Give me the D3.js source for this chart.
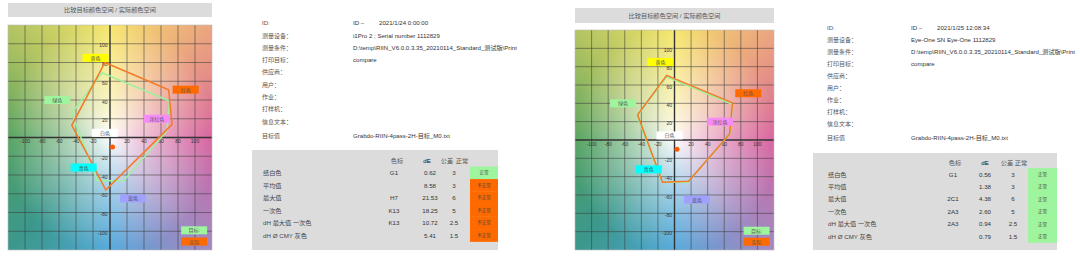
<!DOCTYPE html>
<html><head><meta charset="utf-8">
<script src="https://cdn.jsdelivr.net/npm/d3@7"></script>
<style>
body{margin:0;background:#fff;}
svg{display:block;font-family:"Liberation Sans",Arial,"Noto Sans CJK SC",sans-serif;}
</style>
</head><body>
<svg id="c" width="1080" height="256"></svg>
<script>
// ---------- data ----------
const chartTitle = "比较目标颜色空间 / 实际颜色空间";
const tickValues = [-100, -80, -60, -40, -20, 20, 40, 60, 80, 100];
const gridValues = [-100, -80, -60, -40, -20, 0, 20, 40, 60, 80, 100];

const colorNames = ["黄色", "红色", "洋红色", "蓝色", "青色", "绿色", "白色"];
const colorNameA = [-17, 89, 55, 27, -31, -62, -6];
const colorNameB = [85, 51, 20, -65, -32, 40, 5];
const colorNameFill = ["#ffff00", "#ff6a00", "#f58cf5", "#a0a0ff", "#00ffff", "#9ef59e", "#ffffff"];

const legendNames = ["目标:", "实际"];
const legendFill = ["#9ef59e", "#ff6a00"];
const legendA = [99, 99];
const legendB = [-99, -111];

// target gamut (Y, R, M, B, C, G) in a*, b*
const targetA = [-9.5, 70, 67, 16, -15, -45];
const targetB = [69, 39, 7, -46, -46, 26];
// actual gamut, chart 1
const actual1A = [-6, 69, 73, -5, -25, -45];
const actual1B = [80, 51, 14, -56, -21, 13];
// actual gamut, chart 2
const actual2A = [-9.5, 70, 66.5, 17, -14.5, -44.5];
const actual2B = [70.5, 40.5, 6.5, -45, -46, 27.5];
// paper white marker
const paperA = [3, 3];
const paperB = [-10, -10];

// info panel
const infoLabels = ["ID:", "测量设备：", "测量条件：", "打印目标：", "供应商：", "用户：", "作业：", "打样机：", "信息文本：", "目标值"];
const info1Values = ["ID –", "i1Pro 2 ; Serial number 1112829", "D:\\temp\\RIIN_V6.0.0.3.35_20210114_Standard_测试版\\Print", "compare", "", "", "", "", "", "Grabdo-RIIN-4pass-2H-目标_M0.txt"];
const info2Values = ["ID –", "Eye-One SN Eye-One 1112829", "D:\\temp\\RIIN_V6.0.0.3.35_20210114_Standard_测试版\\Print", "compare", "", "", "", "", "", "Grabdo-RIIN-4pass-2H-目标_M0.txt"];
const info1Date = "2021/1/24 0:00:00";
const info2Date = "2021/1/25 12:08:34";

// result table
const tableHeaders = ["色标", "dE", "公差", "正常"];
const rowNames = ["纸白色", "平均值", "最大值", "一次色", "dH 最大值 一次色", "dH Ø CMY 灰色"];
const tolerances = ["3", "3", "6", "5", "2.5", "1.5"];
const codes1 = ["G1", "", "H7", "K13", "K13", ""];
const dE1 = ["0.62", "8.58", "21.53", "18.25", "10.72", "5.41"];
const status1 = ["正常", "不正常", "不正常", "不正常", "不正常", "不正常"];
const codes2 = ["G1", "", "2C1", "2A3", "2A3", ""];
const dE2 = ["0.56", "1.38", "4.38", "2.60", "0.94", "0.79"];
const status2 = ["正常", "正常", "正常", "正常", "正常", "正常"];

// ---------- background colour field ----------
const anchorAngles = [0, 45, 90, 135, 180, 225, 270, 315, 360];
const anchorColors = ["#d75f9c", "#eba57f", "#f6e668", "#b3c462", "#52a05c", "#3c988c", "#4ea6da", "#a388c0", "#d75f9c"];
const angScale = d3.scaleLinear().domain(anchorAngles).range(anchorColors).interpolate(d3.interpolateRgb);
function fieldColor(a, b) {
  let ang = Math.atan2(b, a) * 180 / Math.PI; if (ang < 0) ang += 360;
  const r = Math.sqrt(a * a + b * b);
  const t = Math.pow(Math.min(1, r / 125), 0.8);
  const c = d3.rgb(angScale(ang));
  return [255 + (c.r - 255) * t, 255 + (c.g - 255) * t, 255 + (c.b - 255) * t];
}

const svg = d3.select("#c");
svg.append("rect").attr("width", 1080).attr("height", 256).attr("fill", "#fff");

function drawChart(g, box, actualA, actualB, idx) {
  const x = d3.scaleLinear().domain([-120, 120]).range([box.x0, box.x1]);
  const y = d3.scaleLinear().domain([-120, 120]).range([box.y1, box.y0]);
  // title
  g.append("rect").attr("x", box.x0).attr("y", box.ty0).attr("width", box.x1 - box.x0).attr("height", box.ty1 - box.ty0).attr("fill", "#dcdcdc");
  g.append("text").attr("x", (box.x0 + box.x1) / 2).attr("y", (box.ty0 + box.ty1) / 2 + 2.2)
    .attr("text-anchor", "middle").attr("font-size", 6.2).attr("fill", "#555").text(chartTitle);
  // background
  const w = Math.round(box.x1 - box.x0), h = Math.round(box.y1 - box.y0);
  const cv = document.createElement("canvas"); cv.width = w; cv.height = h;
  const ctx = cv.getContext("2d"); const img = ctx.createImageData(w, h);
  for (let j = 0; j < h; j++) for (let i = 0; i < w; i++) {
    const a = x.invert(box.x0 + i + 0.5), b = y.invert(box.y0 + j + 0.5);
    const c = fieldColor(a, b); const k = (j * w + i) * 4;
    img.data[k] = c[0]; img.data[k + 1] = c[1]; img.data[k + 2] = c[2]; img.data[k + 3] = 255;
  }
  ctx.putImageData(img, 0, 0);
  g.append("image").attr("x", box.x0).attr("y", box.y0).attr("width", w).attr("height", h).attr("href", cv.toDataURL());
  // grid
  g.selectAll(".gv").data(gridValues.filter(v => v !== 0)).join("line")
    .attr("x1", d => x(d)).attr("x2", d => x(d)).attr("y1", box.y0).attr("y2", box.y1)
    .attr("stroke", "#3a3a3a").attr("stroke-opacity", 0.55).attr("stroke-width", 1);
  g.selectAll(".gh").data(gridValues.filter(v => v !== 0)).join("line")
    .attr("y1", d => y(d)).attr("y2", d => y(d)).attr("x1", box.x0).attr("x2", box.x1)
    .attr("stroke", "#3a3a3a").attr("stroke-opacity", 0.55).attr("stroke-width", 1);
  // axes
  g.append("line").attr("x1", x(0)).attr("x2", x(0)).attr("y1", box.y0).attr("y2", box.y1).attr("stroke", "#333").attr("stroke-width", 1.4);
  g.append("line").attr("y1", y(0)).attr("y2", y(0)).attr("x1", box.x0).attr("x2", box.x1).attr("stroke", "#333").attr("stroke-width", 1.4);
  g.append("rect").attr("x", box.x0).attr("y", box.y0).attr("width", w).attr("height", h).attr("fill", "none").attr("stroke", "#bbb").attr("stroke-width", 0.6);
  // tick labels
  g.selectAll(".tx").data(tickValues).join("text")
    .attr("x", d => x(d)).attr("y", y(0) + 5.5).attr("text-anchor", "middle")
    .attr("font-size", 5).attr("fill", "#333").text(d => d);
  g.selectAll(".ty").data(tickValues).join("text")
    .attr("x", x(0) - 2.5).attr("y", d => y(d) + 3.5).attr("text-anchor", "end")
    .attr("font-size", 5).attr("fill", "#333").text(d => d);
  // gamut polygons
  const line = d3.line().x(d => x(d[0])).y(d => y(d[1])).curve(d3.curveLinearClosed);
  g.append("path").attr("d", line(targetA.map((a, i) => [a, targetB[i]])))
    .attr("fill", "none").attr("stroke", "#9ef09e").attr("stroke-width", 1.5);
  g.append("path").attr("d", line(actualA.map((a, i) => [a, actualB[i]])))
    .attr("fill", "none").attr("stroke", "#f47a25").attr("stroke-width", 1.5);
  // paper white marker
  g.append("circle").attr("cx", x(paperA[idx])).attr("cy", y(paperB[idx])).attr("r", 2.5).attr("fill", "#ff5a00");
  // colour name boxes
  const names = colorNames.map((n, i) => ({ n, a: colorNameA[i], b: colorNameB[i], f: colorNameFill[i] }))
    .concat(legendNames.map((n, i) => ({ n, a: legendA[i], b: legendB[i], f: legendFill[i] })));
  const lg = g.selectAll(".nm").data(names).join("g");
  lg.append("rect").attr("x", d => x(d.a) - 13).attr("y", d => y(d.b) - 4).attr("width", 26).attr("height", 8).attr("fill", d => d.f);
  lg.append("text").attr("x", d => x(d.a)).attr("y", d => y(d.b) + 2).attr("text-anchor", "middle")
    .attr("font-size", 5).attr("fill", "#555").text(d => d.n);
}

function drawInfo(g, p, values, date) {
  const rows = infoLabels.map((l, i) => ({ l, v: values[i], y: i < 9 ? p.y0 + i * p.dy : p.yLast }));
  g.selectAll(".il").data(rows).join("text").attr("x", p.lx).attr("y", d => d.y + 2.2)
    .attr("font-size", 6).attr("fill", "#555").text(d => d.l);
  g.selectAll(".iv").data(rows).join("text").attr("x", p.vx).attr("y", d => d.y + 2.2)
    .attr("font-size", 6.1).attr("fill", "#333").text(d => d.v);
  g.append("text").attr("x", p.dx).attr("y", p.y0 + 2.2).attr("font-size", 6.1).attr("fill", "#333").text(date);
}

function drawTable(g, t, codes, dE, status) {
  g.append("rect").attr("x", t.x0).attr("y", t.y0).attr("width", t.x1 - t.x0).attr("height", t.y1 - t.y0).attr("fill", "#dcdcdc");
  g.selectAll(".th").data(tableHeaders).join("text").attr("x", (d, i) => t.hx[i]).attr("y", t.hy + 2.2)
    .attr("text-anchor", "middle").attr("font-size", 6.2).attr("fill", (d, i) => i === 1 ? "#111" : "#555")
    .text(d => d);
  const rows = rowNames.map((n, i) => ({ n, c: codes[i], e: dE[i], t: tolerances[i], s: status[i], y: t.ry0 + i * t.rdy }));
  const rg = g.selectAll(".tr").data(rows).join("g");
  rg.append("rect").attr("x", t.sx0).attr("y", d => d.y - t.rdy / 2).attr("width", t.x1 - t.sx0).attr("height", t.rdy + 0.3)
    .attr("fill", d => d.s === "正常" ? "#9ef59e" : "#ff6a00");
  rg.append("text").attr("x", (t.sx0 + t.x1) / 2).attr("y", d => d.y + 1.6).attr("text-anchor", "middle")
    .attr("font-size", 4.5).attr("fill", "#444").text(d => d.s);
  rg.append("text").attr("x", t.nx).attr("y", d => d.y + 2.2).attr("font-size", 6.2).attr("fill", "#444").text(d => d.n);
  rg.append("text").attr("x", t.cx).attr("y", d => d.y + 2.2).attr("text-anchor", "middle").attr("font-size", 6.2).attr("fill", "#333").text(d => d.c);
  rg.append("text").attr("x", t.ex).attr("y", d => d.y + 2.2).attr("text-anchor", "middle").attr("font-size", 6.2).attr("fill", "#333").text(d => d.e);
  rg.append("text").attr("x", t.tx).attr("y", d => d.y + 2.2).attr("text-anchor", "middle").attr("font-size", 6.2).attr("fill", "#333").text(d => d.t);
}

// ---------- layout ----------
const g1 = svg.append("g");
drawChart(g1, { x0: 8, x1: 212, y0: 25, y1: 250, ty0: 3, ty1: 17 }, actual1A, actual1B, 0);
const clip = svg.append("defs").append("clipPath").attr("id", "clipInfo1");
clip.append("rect").attr("x", 215).attr("y", 0).attr("width", 302).attr("height", 256);
const i1 = svg.append("g").attr("clip-path", "url(#clipInfo1)");
drawInfo(i1, { lx: 262, vx: 353, dx: 379, y0: 23, dy: 12.3, yLast: 136 }, info1Values, info1Date);
drawTable(svg.append("g"), { x0: 252, x1: 498, y0: 150, y1: 250, hy: 161, hx: [397, 427, 447, 462],
  ry0: 172.8, rdy: 12.5, nx: 263, cx: 394, ex: 430, tx: 454, sx0: 470 }, codes1, dE1, status1);

const g2 = svg.append("g");
drawChart(g2, { x0: 575, x1: 774, y0: 30, y1: 250, ty0: 8, ty1: 23 }, actual2A, actual2B, 1);
drawInfo(svg.append("g"), { lx: 827, vx: 911, dx: 937, y0: 28, dy: 12, yLast: 138 }, info2Values, info2Date);
drawTable(svg.append("g"), { x0: 813, x1: 1057, y0: 153, y1: 250, hy: 163, hx: [955, 985, 1007, 1021],
  ry0: 174.3, rdy: 12.4, nx: 828, cx: 953, ex: 985, tx: 1013, sx0: 1028 }, codes2, dE2, status2);
</script>
</body></html>
